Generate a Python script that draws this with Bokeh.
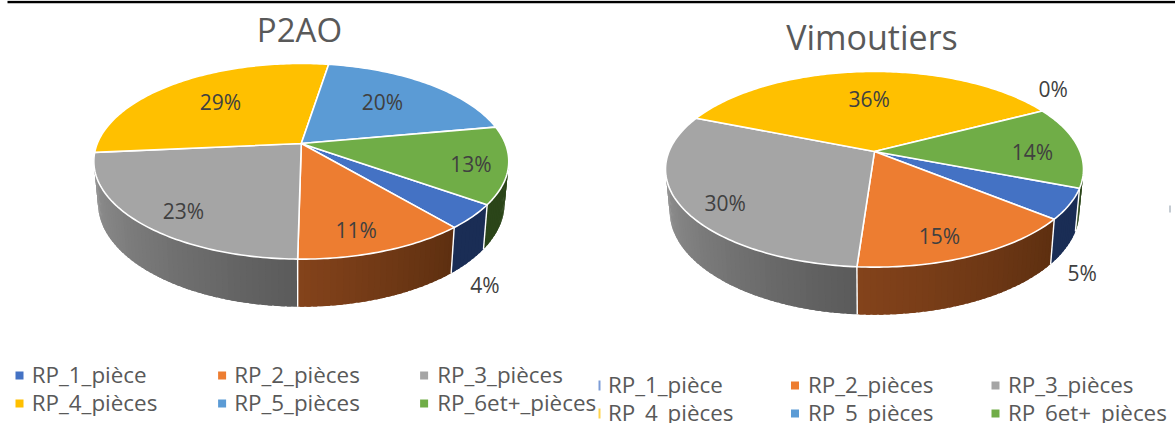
import math

from bokeh.core.properties import value
from bokeh.embed import file_html
from bokeh.models import ColumnDataSource, Range1d
from bokeh.plotting import figure
from bokeh.resources import INLINE

# Housing stock by number of rooms, in percent
categories = ["RP_1_pièce", "RP_2_pièces", "RP_3_pièces", "RP_4_pièces", "RP_5_pièces", "RP_6et+_pièces"]
p2ao_values = [4.0, 11.4, 23.3, 29.0, 19.6, 12.7]
vimoutiers_values = [5.0, 15.2, 30.0, 36.2, 0.0, 13.6]

# Face colour of each slice and the left and right ends of its side-wall shading
face_colors = ["#4472C4", "#ED7D31", "#A5A5A5", "#FFC000", "#5B9BD5", "#70AD47"]
wall_left = ["#1A2D55", "#84431B", "#969696", "#8F6C00", "#2F5D85", "#2B4519"]
wall_right = ["#1A2D55", "#5D2F10", "#5A5A5A", "#8F6C00", "#2F5D85", "#2B4519"]

FONT = "Open Sans"
TITLE_COLOR = "#595959"
LABEL_COLOR = "#404040"

# Perspective of the disc: k squeezes the far half, the wall drops below the top face
PERSPECTIVE_K = 0.182
WALL_DROP = 41
WALL_SCALE_X = 0.98
WALL_SCALE_Y = 1.057
WALL_ARC = (96, 264)

p = figure(width=1175, height=423, output_backend="svg", toolbar_location=None,
           x_range=Range1d(0, 1175), y_range=Range1d(423, 0), min_border=0,
           background_fill_color="white", border_fill_color="white", outline_line_color=None)
p.axis.visible = False
p.grid.visible = False


def rim(cx, cy, a, b, deg, wall=False):
    """Screen position of a rim point; deg runs clockwise from the far side of the disc."""
    t = math.radians(deg)
    u, v = math.sin(t), math.cos(t)
    w = 1 + PERSPECTIVE_K * v
    dx, dy = a * u / w, -b * v / w
    if wall:
        return cx + WALL_SCALE_X * dx, cy + WALL_DROP + WALL_SCALE_Y * dy
    return cx + dx, cy + dy


def mix(c1, c2, f):
    parts = [int(c1[i:i + 2], 16) * (1 - f) + int(c2[i:i + 2], 16) * f for i in (1, 3, 5)]
    return "#%02x%02x%02x" % tuple(round(x) for x in parts)


def draw_pie(values, start, cx, cy, a, b):
    spans = []
    ang = start
    for val in values:
        spans.append((ang, ang + val * 3.6))
        ang += val * 3.6

    # Side wall: thin shaded strips along the near half of the rim, each one
    # running slightly under the next so that no seams show
    xs, ys, fills = [], [], []
    seams = []
    for (s, e), c1, c2 in zip(spans, wall_left, wall_right):
        for shift in (0, 360, -360):
            lo, hi = max(s + shift, WALL_ARC[0]), min(e + shift, WALL_ARC[1])
            if hi <= lo:
                continue
            n = max(1, int((hi - lo) / 1.5))
            for i in range(n):
                a0 = lo + (hi - lo) * i / n
                a1 = min(hi, lo + (hi - lo) * (i + 1) / n + 1.0)
                steps = [a0 + (a1 - a0) * j / 3 for j in range(4)]
                pts = [rim(cx, cy, a, b, d) for d in steps] + [rim(cx, cy, a, b, d, True) for d in reversed(steps)]
                xs.append([q[0] for q in pts])
                ys.append([q[1] for q in pts])
                # Angles grow from right to left along the near rim
                fills.append(mix(c2, c1, (i + 0.5) / n))
        if WALL_ARC[0] < e % 360 < WALL_ARC[1] - 20:
            seams.append(e % 360)
    p.patches(xs, ys, fill_color=fills, line_color=None)
    for deg in seams:
        x0, y0 = rim(cx, cy, a, b, deg)
        x1, y1 = rim(cx, cy, a, b, deg, True)
        p.line([x0, x1], [y0, y1], line_color="white", line_width=1.4)

    # Top face
    for (s, e), color in zip(spans, face_colors):
        if e <= s:
            continue
        n = max(2, int(e - s))
        arc = [rim(cx, cy, a, b, s + (e - s) * i / n) for i in range(n + 1)]
        p.patch([cx] + [q[0] for q in arc], [cy] + [q[1] for q in arc],
                fill_color=color, line_color="white", line_width=1.6, line_join="round")


def draw_text(xs, ys, texts, size, color, align="center"):
    src = ColumnDataSource(dict(x=xs, y=ys, t=texts))
    p.text("x", "y", text="t", source=src, text_font=value(FONT), text_font_size=size,
           text_color=color, text_align=align, text_baseline="middle")


def draw_labels(values, xs, ys):
    draw_text(xs, ys, [f"{round(v)}%" for v in values], "21px", LABEL_COLOR)


def draw_legend(text_x, marker_x, row_y, size, marker_size=8):
    for i, (name, color) in enumerate(zip(categories, face_colors)):
        col, row = i % 3, i // 3
        draw_text([text_x[col]], [row_y[row] - 1], [name], size, TITLE_COLOR, "left")
        if marker_x[col] is not None:
            p.rect([marker_x[col]], [row_y[row]], width=marker_size, height=marker_size,
                   fill_color=color, line_color=None)


# Rule along the top edge
p.segment([7], [1.5], [1175], [1.5], line_color="black", line_width=2.4)

# P2AO pie
draw_pie(p2ao_values, 125.4, 300.8, 143, 204, 94.6)
draw_text([299], [29], ["P2AO"], "33px", TITLE_COLOR)
draw_labels(p2ao_values, [484.4, 355.7, 183, 220, 382, 470.5], [284, 229, 210, 101, 101, 163])
draw_legend([31.2, 233.7, 436.7], [19, 221.6, 423.6], [375, 403], "22.4px")

# Vimoutiers pie
draw_pie(vimoutiers_values, 111.3, 874, 151, 205.5, 94.6)
draw_text([871.5], [36], ["Vimoutiers"], "34px", TITLE_COLOR)
draw_labels(vimoutiers_values, [1081.8, 939, 724.7, 868.7, 1052.7, 1032], [272, 235, 202, 98, 88, 151])

# Second legend, its first column partly cut off by the neighbouring panel
p.quad(left=[598], right=[600], top=[380], bottom=[390], fill_color=face_colors[0], line_color=None, fill_alpha=0.7)
p.quad(left=[598], right=[600], top=[408], bottom=[418], fill_color=face_colors[3], line_color=None, fill_alpha=0.7)
draw_legend([607.4, 807.4, 1007.4], [None, 794.5, 995], [385, 413], "22.4px")

# Stray tick at the right edge of the second panel
p.segment([1169.5], [205], [1169.5], [212], line_color="#8A98A6", line_width=1)

open("out.html", "w").write(file_html(p, INLINE))
